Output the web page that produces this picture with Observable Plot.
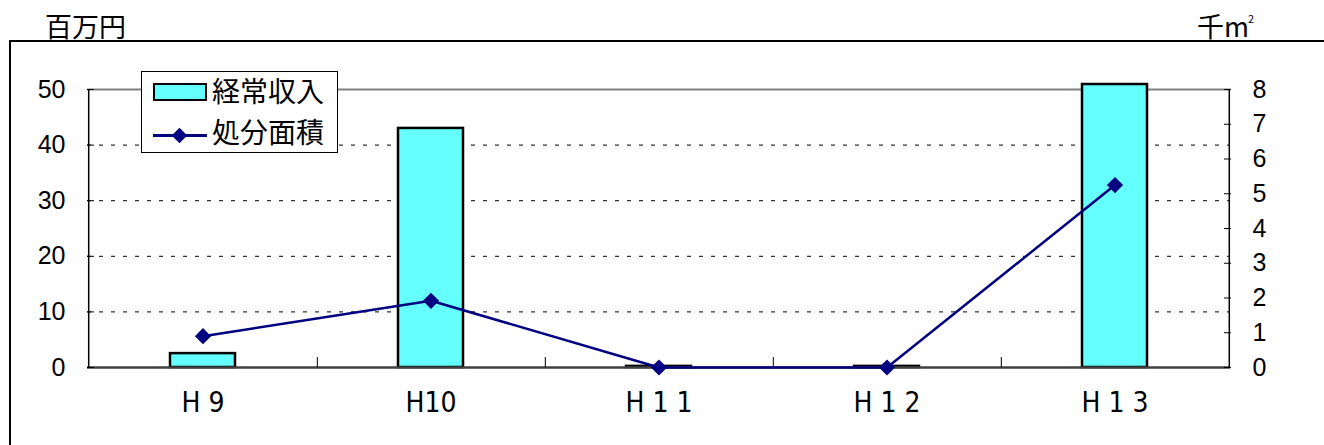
<!DOCTYPE html>
<html><head><meta charset="utf-8">
<script src="https://cdn.jsdelivr.net/npm/d3@7"></script>
<script src="https://cdn.jsdelivr.net/npm/@observablehq/plot@0.6"></script>
<style>
html,body{margin:0;padding:0;background:#fff;overflow:hidden;}
#wrap{position:relative;width:1324px;height:445px;overflow:hidden;}
#chart{position:absolute;left:0;top:0;}
.frame{position:absolute;left:9px;top:40px;width:1400px;height:500px;border-left:2.5px solid #000;border-top:2.5px solid #000;}
.jp{position:absolute;font-family:"Noto Sans CJK JP";font-size:27px;line-height:1;color:#000;white-space:nowrap;}
#legend{position:absolute;left:141px;top:71px;width:197px;height:82px;border:1px solid #000;background:#fff;box-sizing:border-box;}
#legend .jp{font-size:28px;}
.sup{font-size:11px;vertical-align:14px;margin-left:-1px;}
</style></head><body>
<div id="wrap">
  <div id="chart"></div>
  <div class="frame"></div>
  <div class="jp" id="unitL" style="left:45px;top:12px;"></div>
  <div class="jp" id="unitR" style="left:1197px;top:12px;"></div>
  <div id="legend"></div>
</div>
<script>
// ---- data ----
const categories = ["H 9", "H10", "H 1 1", "H 1 2", "H 1 3"];
const income = [2.5, 43, 0.2, 0.2, 55];      // 経常収入 (百万円)
const area = [0.9, 1.92, 0, 0, 5.25];        // 処分面積 (千m²)
const leftTicks = [0, 10, 20, 30, 40, 50];
const rightTicks = [0, 1, 2, 3, 4, 5, 6, 7, 8];
const gridTicks = [10, 20, 30, 40];
const seriesNames = ["経常収入", "処分面積"];
const unitLeft = "百万円";
const unitRight = ["千m", "2"];

// ---- layout ----
const W = 1324, H = 445, mL = 87, mR = 94, mT = 84, mB = 78;
const step = (W - mL - mR) / categories.length;
const k = 50 / 8; // right-axis units -> left-axis units

const rows = categories.map((c, i) => ({cat: c, income: income[i], area: area[i]}));

const chart = Plot.plot({
  width: W, height: H,
  marginLeft: mL, marginRight: mR, marginTop: mT, marginBottom: mB,
  style: {background: "transparent", fontFamily: "Liberation Sans, Arial, sans-serif", fontSize: "25px", color: "#000"},
  x: {type: "band", domain: categories, paddingInner: 0.716, paddingOuter: 0.358, label: null},
  y: {domain: [0, 50.9], clamp: true, label: null},
  marks: [
    Plot.ruleY(gridTicks, {stroke: "#000", strokeWidth: 1, strokeDasharray: "4,8"}),
    Plot.ruleY([50], {stroke: "#808080", strokeWidth: 2}),
    Plot.barY(rows, {x: "cat", y: "income", fill: "#66FFFF", stroke: "#000", strokeWidth: 2.5}),
    Plot.ruleY([0], {stroke: "#404040", strokeWidth: 2.5}),
    Plot.ruleX([categories[0]], {dx: -step / 2, y1: 0, y2: 50, stroke: "#000", strokeWidth: 1.5}),
    Plot.ruleX([categories[categories.length - 1]], {dx: step / 2, y1: 0, y2: 50, stroke: "#000", strokeWidth: 1.5}),
    Plot.ruleX(categories.slice(0, -1), {dx: step / 2, y1: 0, y2: 1.8, stroke: "#000", strokeWidth: 1}),
    Plot.axisY(leftTicks, {anchor: "left", tickSize: -7, tickPadding: 29, fontSize: 25, stroke: "#000"}),
    Plot.axisY(rightTicks.map(d => d * k), {anchor: "right", tickSize: -7, tickPadding: 29, fontSize: 25, tickFormat: d => Math.round(d / k), stroke: "#000"}),
    Plot.axisX(categories, {anchor: "bottom", tickSize: 0, tickPadding: 25, fontSize: 28, fontFamily: "Liberation Sans Narrow, DejaVu Sans Condensed, sans-serif"}),
    Plot.line(rows, {x: "cat", y: d => d.area * k, stroke: "#000080", strokeWidth: 2.5}),
    Plot.dot(rows, {x: "cat", y: d => d.area * k, symbol: "diamond2", r: 7.3, fill: "#000080", stroke: "none"})
  ]
});
document.getElementById("chart").appendChild(chart);

document.getElementById("unitL").textContent = unitLeft;
document.getElementById("unitR").innerHTML = `${unitRight[0]}<span class="sup">${unitRight[1]}</span>`;

// legend
const lg = document.getElementById("legend");
lg.innerHTML = `
  <div style="position:absolute;left:11px;top:11px;width:54px;height:18px;background:#66FFFF;border:2px solid #000;box-sizing:border-box;"></div>
  <div class="jp" style="left:70px;top:4px;">${seriesNames[0]}</div>
  <div style="position:absolute;left:11px;top:62px;width:54px;height:3px;background:#000080;"></div>
  <div style="position:absolute;left:32px;top:58px;width:11px;height:11px;background:#000080;transform:rotate(45deg);"></div>
  <div class="jp" style="left:70px;top:45px;">${seriesNames[1]}</div>`;
</script>
</body></html>
